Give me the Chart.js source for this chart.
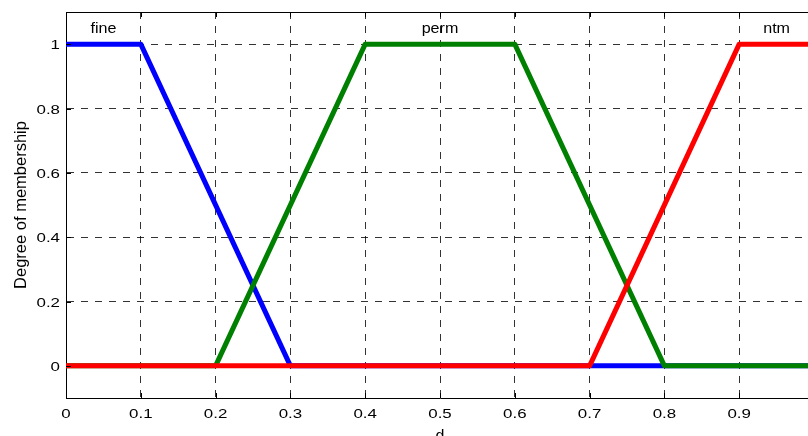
<!DOCTYPE html>
<html>
<head>
<meta charset="utf-8">
<script src="https://cdn.jsdelivr.net/npm/chart.js@4/dist/chart.umd.min.js"></script>
<style>
  html, body { margin: 0; padding: 0; background: #fff; overflow: hidden; }
  #wrap { width: 808px; height: 436px; overflow: hidden; position: relative; }
  canvas { display: block; }
</style>
</head>
<body>
<div id="wrap"><canvas id="c" width="840" height="436"></canvas></div>
<script>
// ---- data ----
const fineX = [0, 0.1, 0.3, 1];
const fineY = [1, 1, 0, 0];
const permX = [0, 0.2, 0.4, 0.6, 0.8, 1];
const permY = [0, 0, 1, 1, 0, 0];
const ntmX  = [0, 0.7, 0.9, 1];
const ntmY  = [0, 0, 1, 1];

const setNames  = ['fine', 'perm', 'ntm'];
const setLabelX = [0.05, 0.5, 0.95];
const setLabelY = 1.05;

const xTicks = [0, 0.1, 0.2, 0.3, 0.4, 0.5, 0.6, 0.7, 0.8, 0.9, 1];
const xTickLabels = ['0', '0.1', '0.2', '0.3', '0.4', '0.5', '0.6', '0.7', '0.8', '0.9', '1'];
const yTicks = [0, 0.2, 0.4, 0.6, 0.8, 1];
const yTickLabels = ['0', '0.2', '0.4', '0.6', '0.8', '1'];

const xTitle = 'd';
const yTitle = 'Degree of membership';

const pts = (xs, ys) => xs.map((x, i) => ({ x: x, y: ys[i] }));

function drawText(ctx, s, x, y, o) {
  ctx.save();
  ctx.translate(x, y);
  if (o.rot) ctx.rotate(o.rot);
  ctx.scale(o.sx || 1, 1);
  ctx.font = (o.size || 13) + 'px "Liberation Sans", Arial, sans-serif';
  ctx.fillStyle = '#000';
  ctx.textAlign = o.align || 'center';
  ctx.textBaseline = 'alphabetic';
  ctx.fillText(s, 0, 0);
  ctx.restore();
}

const frame = {
  id: 'frame',
  afterDraw(chart) {
    const ctx = chart.ctx;
    const a = chart.chartArea;
    const xs = chart.scales.x, ys = chart.scales.y;
    ctx.save();
    ctx.strokeStyle = '#000';
    ctx.lineWidth = 1;
    ctx.beginPath();
    // box
    ctx.moveTo(a.left, a.top + 0.5); ctx.lineTo(a.right, a.top + 0.5);
    ctx.moveTo(a.right - 0.5, a.top); ctx.lineTo(a.right - 0.5, a.bottom);
    // inward ticks
    const tl = 5;
    xTicks.forEach(v => {
      const p = Math.round(xs.getPixelForValue(v)) + 0.5;
      ctx.moveTo(p, a.bottom); ctx.lineTo(p, a.bottom - tl);
      ctx.moveTo(p, a.top); ctx.lineTo(p, a.top + tl);
    });
    yTicks.forEach(v => {
      const p = Math.round(ys.getPixelForValue(v)) + 0.5;
      ctx.moveTo(a.left, p); ctx.lineTo(a.left + tl, p);
      ctx.moveTo(a.right, p); ctx.lineTo(a.right - tl, p);
    });
    ctx.stroke();
    ctx.restore();

    // tick labels
    xTicks.forEach((v, i) => {
      drawText(ctx, xTickLabels[i], xs.getPixelForValue(v), a.bottom + 19.5, { size: 13.5, sx: 1.25 });
    });
    yTicks.forEach((v, i) => {
      drawText(ctx, yTickLabels[i], a.left - 6, ys.getPixelForValue(v) + 5, { size: 13.5, sx: 1.25, align: 'right' });
    });
    // set names
    setNames.forEach((n, i) => {
      drawText(ctx, n, xs.getPixelForValue(setLabelX[i]), ys.getPixelForValue(setLabelY) + 5, { size: 14, sx: 1.15 });
    });
    // axis titles
    drawText(ctx, xTitle, (a.left + a.right) / 2, a.bottom + 43, { size: 16 });
    drawText(ctx, yTitle, 25.5, (a.top + a.bottom) / 2, { size: 16.5, rot: -Math.PI / 2 });
  }
};

const gridColor = (edgeVals) => (c) => {
  const v = c.tick ? c.tick.value : null;
  return edgeVals.includes(v) ? 'rgba(0,0,0,0)' : 'rgba(0,0,0,0.8)';
};

new Chart(document.getElementById('c'), {
  type: 'line',
  data: {
    datasets: [
      { label: 'fine', data: pts(fineX, fineY), borderColor: '#0000ff', order: 3 },
      { label: 'perm', data: pts(permX, permY), borderColor: '#008000', order: 2 },
      { label: 'ntm',  data: pts(ntmX, ntmY),  borderColor: '#ff0000', order: 1 }
    ]
  },
  options: {
    responsive: false,
    animation: false,
    devicePixelRatio: 1,
    events: [],
    layout: { padding: { left: 0, right: 26, top: 12, bottom: 0 } },
    elements: {
      line: { borderWidth: 5, tension: 0, fill: false, borderJoinStyle: 'round', borderCapStyle: 'butt' },
      point: { radius: 0 }
    },
    plugins: { legend: { display: false }, tooltip: { enabled: false }, title: { display: false } },
    scales: {
      x: {
        type: 'linear', min: 0, max: 1,
        afterBuildTicks: s => { s.ticks = xTicks.map(v => ({ value: v })); },
        afterFit: s => { s.height = 38; },
        ticks: { display: false },
        grid: { color: gridColor([0, 1]), lineWidth: 1, drawTicks: false, tickLength: 0 },
        border: { display: true, color: '#000', width: 1, dash: [7, 7] }
      },
      y: {
        type: 'linear', min: -0.1, max: 1.1,
        afterBuildTicks: s => { s.ticks = yTicks.map(v => ({ value: v })); },
        afterFit: s => { s.width = 66; },
        ticks: { display: false },
        grid: { color: gridColor([]), lineWidth: 1, drawTicks: false, tickLength: 0 },
        border: { display: true, color: '#000', width: 1, dash: [7, 7] }
      }
    }
  },
  plugins: [frame]
});
</script>
</body>
</html>
